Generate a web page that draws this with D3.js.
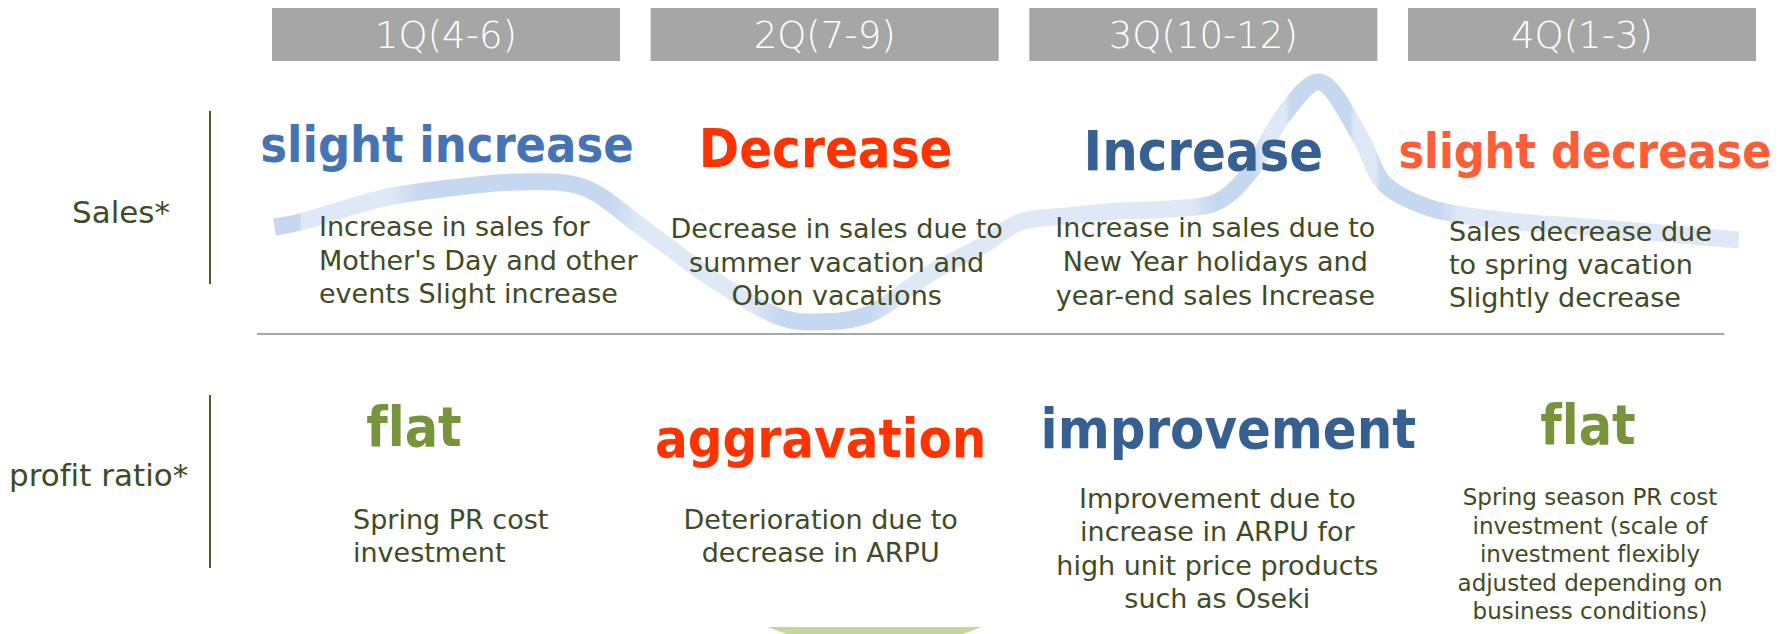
<!DOCTYPE html>
<html>
<head>
<meta charset="utf-8">
<script src="https://cdn.jsdelivr.net/npm/d3@7"></script>
<style>
  html, body { margin: 0; padding: 0; background: #fff; }
  svg { display: block; font-family: 'DejaVu Sans', Verdana, sans-serif; }
  svg text { font-variant-ligatures: none; font-feature-settings: "liga" 0; }
</style>
</head>
<body>
<div id="chart"></div>
<script>
// quarter headers
const quarters = ['1Q(4-6)', '2Q(7-9)', '3Q(10-12)', '4Q(1-3)'];

// row labels
const rowLabels = ['Sales*', 'profit ratio*'];

// sales row
const salesTrend = ['slight increase', 'Decrease', 'Increase', 'slight decrease'];
const salesNotes = [
  ['Increase in sales for', "Mother's Day and other", 'events Slight increase'],
  ['Decrease in sales due to', 'summer vacation and', 'Obon vacations'],
  ['Increase in sales due to', 'New Year holidays and', 'year-end sales Increase'],
  ['Sales decrease due', 'to spring vacation', 'Slightly decrease'],
];

// profit row
const profitTrend = ['flat', 'aggravation', 'improvement', 'flat'];
const profitNotes = [
  ['Spring PR cost', 'investment'],
  ['Deterioration due to', 'decrease in ARPU'],
  ['Improvement due to', 'increase in ARPU for', 'high unit price products', 'such as Oseki'],
  ['Spring season PR cost', 'investment (scale of', 'investment flexibly', 'adjusted depending on', 'business conditions)'],
];

// seasonal sales wave: months elapsed since April vs relative sales level (0-100)
const waveMonth = [0.02, 0.23, 0.90, 1.44, 1.98, 2.51, 3.02, 3.60, 4.13, 4.41, 4.81, 5.34, 5.75, 6.05,
  6.43, 6.86, 7.24, 7.64, 7.91, 8.18, 8.47, 8.80, 8.99, 9.34, 9.93, 10.74, 11.86];
const waveLevel = [41.2, 43.2, 52.8, 56.8, 59.2, 57.2, 40.0, 19.2, 4.8, 3.2, 6.0, 23.2, 34.0, 43.2,
  45.6, 47.6, 48.4, 51.2, 63.2, 86.0, 99.2, 77.2, 58.8, 49.2, 44.0, 40.8, 36.0];

// colours for the trend words
const trendColor = d3.scaleOrdinal()
  .domain(['slight increase', 'Decrease', 'Increase', 'slight decrease', 'flat', 'aggravation', 'improvement'])
  .range(['#4673b4', '#ff3300', '#365f92', '#ff5d37', '#77933c', '#ff3300', '#365f92']);

const width = 1787;
const height = 634;
const textColor = '#404b25';

const svg = d3.select('#chart')
  .append('svg')
  .attr('width', width)
  .attr('height', height)
  .attr('viewBox', `0 0 ${width} ${height}`);

// one column per quarter
const xBand = d3.scaleBand()
  .domain(quarters)
  .range([272, 1756])
  .paddingInner(0.081);

const xMonth = d3.scaleLinear().domain([0, 12]).range([272, 1756]);
const yLevel = d3.scaleLinear().domain([0, 100]).range([330, 80]);

function drawWave() {
  const defs = svg.append('defs');
  const grad = defs.append('linearGradient')
    .attr('id', 'waveGrad')
    .attr('gradientUnits', 'userSpaceOnUse')
    .attr('x1', 272).attr('x2', 1756).attr('y1', 0).attr('y2', 0);

  // darker / lighter blocks along the band
  const dark = '#c6d8f0';
  const light = '#dfe8f6';
  const blocks = [
    [272, dark], [300, dark], [301, light], [390, light], [420, dark], [610, dark], [640, light],
    [750, light], [780, dark], [870, dark], [900, light], [1190, light], [1215, dark],
    [1255, dark], [1265, light], [1285, light], [1290, dark], [1350, dark], [1355, light],
    [1375, light], [1380, dark], [1440, dark], [1460, light], [1756, light],
  ];
  grad.selectAll('stop')
    .data(blocks)
    .join('stop')
    .attr('offset', (d) => (d[0] - 272) / (1756 - 272))
    .attr('stop-color', (d) => d[1]);

  const line = d3.line()
    .x((d, i) => xMonth(waveMonth[i]))
    .y((d, i) => yLevel(waveLevel[i]))
    .curve(d3.curveCatmullRom.alpha(0.5));

  svg.append('path')
    .attr('class', 'wave')
    .attr('d', line(waveMonth))
    .attr('fill', 'none')
    .attr('stroke', 'url(#waveGrad)')
    .attr('stroke-width', 17)
    .attr('stroke-linecap', 'butt');
}

function drawHeaders() {
  const g = svg.append('g').attr('class', 'headers');
  g.selectAll('rect')
    .data(quarters)
    .join('rect')
    .attr('x', (d) => xBand(d))
    .attr('y', 8)
    .attr('width', xBand.bandwidth())
    .attr('height', 53)
    .attr('fill', '#a6a6a6');

  g.selectAll('text')
    .data(quarters)
    .join('text')
    .attr('x', (d) => xBand(d) + xBand.bandwidth() / 2)
    .attr('y', 48)
    .attr('text-anchor', 'middle')
    .attr('fill', '#fff')
    .attr('font-size', 37)
    .attr('font-weight', 300)
    .text((d) => d);
}

function drawRowFrame() {
  // row labels and their vertical bars
  svg.append('text')
    .attr('x', 72).attr('y', 223)
    .attr('font-size', 31)
    .attr('fill', textColor)
    .text(rowLabels[0]);
  svg.append('text')
    .attr('x', 9).attr('y', 486)
    .attr('font-size', 31)
    .attr('fill', textColor)
    .text(rowLabels[1]);

  svg.append('line')
    .attr('x1', 210).attr('x2', 210).attr('y1', 111).attr('y2', 284)
    .attr('stroke', '#4f5a2f').attr('stroke-width', 2);
  svg.append('line')
    .attr('x1', 210).attr('x2', 210).attr('y1', 395).attr('y2', 568)
    .attr('stroke', '#4f5a2f').attr('stroke-width', 2);

  // separator between the rows
  svg.append('line')
    .attr('x1', 257).attr('x2', 1724).attr('y1', 334).attr('y2', 334)
    .attr('stroke', '#a6a6a6').attr('stroke-width', 2);

  // top of the green arrow peeking in below
  const cx = xBand(quarters[1]) + xBand.bandwidth() / 2 + 50;
  svg.append('path')
    .attr('d', `M${cx - 107},627 L${cx + 107},627 L${cx + 72},640 L${cx - 72},640 Z`)
    .attr('fill', '#c3d69b');
}

// bold trend word, squeezed a little horizontally like the original face
function drawTrend(words, sizes, dx, baselines) {
  const g = svg.append('g');
  g.selectAll('g')
    .data(words)
    .join('g')
    .attr('transform', (d, i) =>
      `translate(${xBand(quarters[i]) + xBand.bandwidth() / 2 + dx[i]},${baselines[i]}) scale(0.9,1)`)
    .append('text')
    .attr('text-anchor', 'middle')
    .attr('font-weight', 'bold')
    .attr('font-size', (d, i) => sizes[i])
    .attr('fill', (d) => trendColor(d))
    .text((d) => d);
}

// note paragraphs: anchor is 'start' (left x offset from band) or 'middle'
function drawNotes(notes, opts) {
  notes.forEach((lines, i) => {
    const o = opts[i];
    const x0 = o.anchor === 'start'
      ? xBand(quarters[i]) + o.dx
      : xBand(quarters[i]) + xBand.bandwidth() / 2 + o.dx;
    svg.append('text')
      .attr('text-anchor', o.anchor)
      .attr('font-size', o.size)
      .attr('fill', textColor)
      .selectAll('tspan')
      .data(lines)
      .join('tspan')
      .attr('x', x0)
      .attr('y', (d, j) => o.y + j * o.step)
      .text((d) => d);
  });
}

drawWave();
drawHeaders();
drawRowFrame();

drawTrend(salesTrend, [50, 54, 55.5, 48], [1, 1, 0, 3], [162, 167, 170, 168]);
drawNotes(salesNotes, [
  { anchor: 'start', dx: 47, y: 236, step: 33.5, size: 27 },
  { anchor: 'middle', dx: 12, y: 238, step: 33.5, size: 27 },
  { anchor: 'middle', dx: 12, y: 237, step: 34, size: 27 },
  { anchor: 'start', dx: 41, y: 241, step: 33, size: 27 },
]);

drawTrend(profitTrend, [55, 54, 55.5, 55], [-32, -4, 25, 6], [446, 457, 448, 444]);
drawNotes(profitNotes, [
  { anchor: 'start', dx: 81, y: 529, step: 33, size: 27 },
  { anchor: 'middle', dx: -4, y: 529, step: 33, size: 27 },
  { anchor: 'middle', dx: 14, y: 508, step: 33.4, size: 27 },
  { anchor: 'middle', dx: 8, y: 505, step: 28.5, size: 23 },
]);
</script>
</body>
</html>
